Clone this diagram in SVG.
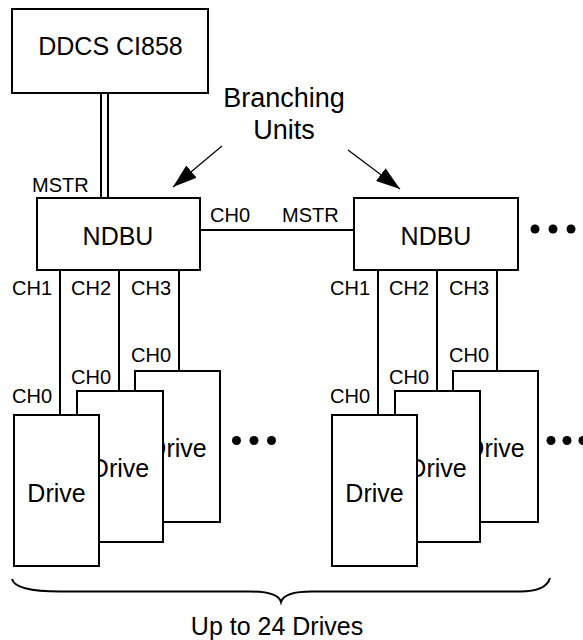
<svg xmlns="http://www.w3.org/2000/svg" width="583" height="640" viewBox="0 0 583 640">
<defs>
<style>
.box{fill:#fff;stroke:#000;stroke-width:2}
.ln{fill:none;stroke:#000;stroke-width:2}
.big{font-family:"Liberation Sans",Arial,sans-serif;font-size:25px;fill:#000;text-anchor:middle}
.lbl{font-family:"Liberation Sans",Arial,sans-serif;font-size:20px;fill:#000}
.dot{fill:#000}
</style>
<marker id="ah" viewBox="0 0 24 16" refX="24" refY="8" markerWidth="24" markerHeight="16" markerUnits="userSpaceOnUse" orient="auto">
<path d="M0,0 L24,8 L0,16 z" fill="#000"/>
</marker>
</defs>
<rect width="583" height="640" fill="#fff"/>
<g id="connectors">
<line class="ln" x1="101" y1="93" x2="101" y2="198"/>
<line class="ln" x1="108" y1="93" x2="108" y2="198"/>
<line class="ln" x1="200" y1="230" x2="354" y2="230"/>
<line class="ln" x1="60" y1="270" x2="60" y2="415"/>
<line class="ln" x1="119" y1="270" x2="119" y2="391"/>
<line class="ln" x1="179" y1="270" x2="179" y2="371"/>
<line class="ln" x1="378" y1="270" x2="378" y2="415"/>
<line class="ln" x1="437" y1="270" x2="437" y2="391"/>
<line class="ln" x1="497" y1="270" x2="497" y2="371"/>
<line x1="222" y1="146" x2="173" y2="187" stroke="#000" stroke-width="1.2" marker-end="url(#ah)"/>
<line x1="348" y1="150" x2="400" y2="189" stroke="#000" stroke-width="1.2" marker-end="url(#ah)"/>
</g>
<g id="ddcs">
<rect class="box" x="12" y="9" width="196" height="84"/>
<text class="big" x="110.5" y="55">DDCS CI858</text>
</g>
<g id="branching-label">
<text class="big" x="284" y="107" style="font-size:27px">Branching</text>
<text class="big" x="284" y="139" style="font-size:27px">Units</text>
</g>
<g id="ndbu1">
<rect class="box" x="37" y="198" width="163" height="72"/>
<text class="big" x="118" y="245">NDBU</text>
</g>
<g id="ndbu2">
<rect class="box" x="354" y="198" width="164" height="72"/>
<text class="big" x="436" y="245">NDBU</text>
</g>
<g id="labels">
<text class="lbl" x="32" y="192">MSTR</text>
<text class="lbl" x="210" y="222">CH0</text>
<text class="lbl" x="282" y="222">MSTR</text>
<text class="lbl" x="12" y="295">CH1</text>
<text class="lbl" x="71" y="295">CH2</text>
<text class="lbl" x="131" y="295">CH3</text>
<text class="lbl" x="131" y="362">CH0</text>
<text class="lbl" x="71" y="384">CH0</text>
<text class="lbl" x="12" y="403">CH0</text>
<text class="lbl" x="330" y="295">CH1</text>
<text class="lbl" x="389" y="295">CH2</text>
<text class="lbl" x="449" y="295">CH3</text>
<text class="lbl" x="449" y="362">CH0</text>
<text class="lbl" x="389" y="384">CH0</text>
<text class="lbl" x="330" y="403">CH0</text>
</g>
<g id="drive-l3">
<rect class="box" x="135" y="371" width="85" height="151"/>
<text class="big" x="177.5" y="457">Drive</text>
</g>
<g id="drive-l2">
<rect class="box" x="77" y="391" width="86" height="151"/>
<text class="big" x="120" y="477">Drive</text>
</g>
<g id="drive-l1">
<rect class="box" x="14" y="415" width="85" height="151"/>
<text class="big" x="56.5" y="502">Drive</text>
</g>
<g id="drive-r3">
<rect class="box" x="453" y="371" width="85" height="151"/>
<text class="big" x="495.5" y="457">Drive</text>
</g>
<g id="drive-r2">
<rect class="box" x="395" y="391" width="85" height="151"/>
<text class="big" x="437.5" y="477">Drive</text>
</g>
<g id="drive-r1">
<rect class="box" x="332" y="415" width="85" height="151"/>
<text class="big" x="374.5" y="502">Drive</text>
</g>
<g id="dots">
<circle class="dot" cx="236.5" cy="440.5" r="4.5"/>
<circle class="dot" cx="254" cy="440.5" r="4.5"/>
<circle class="dot" cx="271.5" cy="440.5" r="4.5"/>
<circle class="dot" cx="535" cy="229" r="4.5"/>
<circle class="dot" cx="553" cy="229" r="4.5"/>
<circle class="dot" cx="571" cy="229" r="4.5"/>
<circle class="dot" cx="551" cy="440.5" r="4.5"/>
<circle class="dot" cx="567" cy="440.5" r="4.5"/>
<circle class="dot" cx="583" cy="440.5" r="4.5"/>
</g>
<g id="brace">
<path class="ln" stroke-width="1.5" d="M12,579 C14,587 30,591.5 60,591.5 L250,591.5 C270,591.5 279,595 281,602 C283,595 292,591.5 312,591.5 L520,591.5 C540,591.5 548,585 550,578"/>
<text class="big" x="277" y="635">Up to 24 Drives</text>
</g>
</svg>
